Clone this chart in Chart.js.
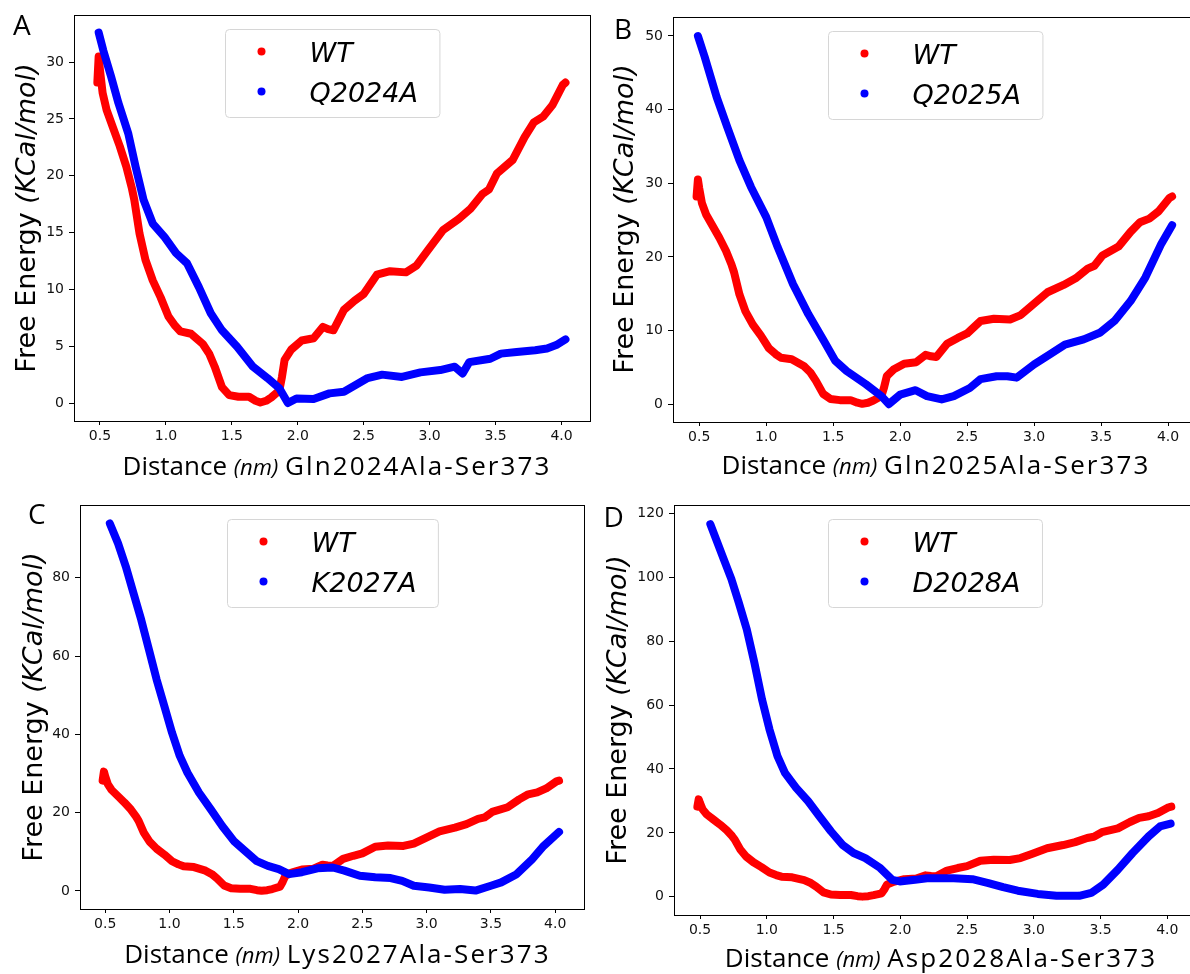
<!DOCTYPE html>
<html><head><meta charset="utf-8">
<script src="https://cdn.jsdelivr.net/npm/chart.js@4.4.1/dist/chart.umd.min.js"></script>
<style>
html,body{margin:0;padding:0;background:#fff;overflow:hidden;width:1190px;height:974px;position:relative;}
.panel{position:absolute;}
.panel canvas{position:absolute;left:0;top:0;}
.lbl{position:absolute;font-family:"Open Sans",sans-serif;font-size:28px;line-height:28px;color:#000;}
.xt{position:absolute;font-family:"Open Sans",sans-serif;font-size:26px;line-height:26px;white-space:nowrap;text-align:center;width:600px;color:#000;}
.xt i{font-size:22px;}
.xt .r{letter-spacing:2.1px;}
.yt{position:absolute;font-family:"DejaVu Sans",sans-serif;font-size:27px;line-height:27px;white-space:nowrap;color:#000;transform:translate(-50%,-50%) rotate(-90deg);}
</style></head>
<body>
<script>
// ---- data ----
const xTickValues = [0.5, 1.0, 1.5, 2.0, 2.5, 3.0, 3.5, 4.0];

const wtDistance = [0.48,0.49,0.50,0.52,0.55,0.60,0.65,0.70,0.74,0.76,0.80,0.845,0.90,0.96,1.02,1.07,1.11,1.19,1.28,1.33,1.37,1.425,1.48,1.55,1.63,1.68,1.716,1.76,1.80,1.86,1.88,1.90,1.95,2.03,2.12,2.19,2.23,2.27,2.35,2.43,2.50,2.60,2.70,2.82,2.90,2.99,3.10,3.22,3.31,3.40,3.45,3.51,3.63,3.72,3.79,3.86,3.93,4.01,4.03];
const wtEnergy   = [28.2,30.5,29.3,27.3,25.8,24.2,22.6,20.8,19.0,17.9,14.9,12.6,10.8,9.3,7.6,6.8,6.3,6.1,5.2,4.3,3.2,1.4,0.7,0.55,0.55,0.2,0.05,0.2,0.5,1.1,2.3,3.8,4.7,5.5,5.7,6.7,6.5,6.4,8.2,9.0,9.6,11.3,11.6,11.5,12.1,13.5,15.2,16.2,17.1,18.4,18.8,20.2,21.4,23.4,24.7,25.2,26.2,28.0,28.2];

const q2024aDistance = [0.49,0.526,0.585,0.64,0.715,0.77,0.83,0.90,0.99,1.077,1.16,1.25,1.34,1.425,1.54,1.66,1.77,1.86,1.925,1.99,2.12,2.24,2.35,2.53,2.64,2.79,2.93,3.08,3.19,3.25,3.30,3.46,3.54,3.66,3.80,3.89,3.96,4.03];
const q2024aEnergy   = [32.6,31.0,28.7,26.4,23.7,20.8,17.9,15.8,14.6,13.2,12.3,10.2,7.9,6.4,4.95,3.2,2.2,1.3,0.0,0.4,0.35,0.85,1.0,2.2,2.5,2.3,2.7,2.9,3.2,2.6,3.6,3.9,4.35,4.5,4.65,4.8,5.1,5.6];

const q2025aDistance = [0.49,0.54,0.63,0.71,0.80,0.886,1.0,1.086,1.20,1.315,1.43,1.515,1.60,1.744,1.86,1.915,2.0,2.115,2.20,2.31,2.40,2.52,2.60,2.72,2.80,2.87,3.0,3.12,3.23,3.37,3.49,3.60,3.72,3.83,3.95,4.03];
const q2025aEnergy   = [50.0,47.2,41.7,37.6,33.1,29.5,25.4,21.3,16.3,12.2,8.6,5.9,4.5,2.7,1.1,0.0,1.3,1.9,1.1,0.64,1.1,2.2,3.4,3.8,3.8,3.6,5.4,6.8,8.1,8.8,9.7,11.3,14.0,17.2,21.8,24.3];

const k2027aDistance = [0.536,0.60,0.66,0.72,0.78,0.84,0.90,0.96,1.02,1.08,1.14,1.23,1.32,1.41,1.50,1.586,1.675,1.765,1.85,1.93,2.03,2.15,2.27,2.36,2.48,2.60,2.72,2.81,2.90,3.02,3.14,3.26,3.38,3.50,3.58,3.70,3.82,3.91,4.03];
const k2027aEnergy   = [93.9,88.8,82.9,76.1,69.3,61.7,54.0,47.2,40.4,34.5,30.2,25.1,20.9,16.6,12.8,10.3,7.7,6.4,5.6,4.3,4.8,5.8,6.0,5.2,3.9,3.5,3.3,2.6,1.35,0.9,0.3,0.5,0.1,1.35,2.2,4.3,8.1,11.5,15.1];

const d2028aDistance = [0.577,0.62,0.678,0.735,0.79,0.85,0.907,0.964,1.02,1.08,1.136,1.22,1.31,1.394,1.48,1.566,1.65,1.738,1.85,1.94,1.996,2.11,2.20,2.40,2.54,2.66,2.77,2.88,3.03,3.17,3.34,3.43,3.52,3.63,3.74,3.86,3.945,4.025];
const d2028aEnergy   = [116.6,111.9,105.6,99.4,92.1,83.7,73.3,61.8,52.4,44.0,38.8,34.1,29.9,25.2,20.5,16.3,13.7,12.1,9.0,5.3,4.8,5.3,5.8,5.8,5.5,4.3,3.0,1.9,0.9,0.3,0.3,1.2,3.8,8.5,13.7,18.9,22.0,22.9];

const yTicksA = [0,5,10,15,20,25,30];
const yTicksB = [0,10,20,30,40,50];
const yTicksC = [0,20,40,60,80];
const yTicksD = [0,20,40,60,80,100,120];

const mutantLabels = ['Q2024A','Q2025A','K2027A','D2028A'];
const pairTitles = ['Gln2024Ala-Ser373','Gln2025Ala-Ser373','Lys2027Ala-Ser373','Asp2028Ala-Ser373'];
const panelLetters = ['A','B','C','D'];

// ---- plugins ----
const framePlugin = {
  id: 'frame',
  afterDatasetsDraw(chart) {
    const {ctx, chartArea: a} = chart;
    ctx.save();
    ctx.strokeStyle = '#000';
    ctx.lineWidth = 1;
    ctx.strokeRect(Math.round(a.left) + 0.5, Math.round(a.top) + 0.5, Math.round(a.right - a.left), Math.round(a.bottom - a.top));
    ctx.restore();
  }
};
const innerLegend = {
  id: 'innerLegend',
  afterDraw(chart) {
    const {ctx, chartArea: a} = chart;
    const ds = chart.data.datasets;
    ctx.save();
    ctx.font = 'italic 27px "DejaVu Sans"';
    const tw = Math.max(...ds.map(d => ctx.measureText(d.label).width));
    const w = 84 + tw + 22, h = 88;
    const x0 = Math.round((a.left + a.right) / 2 - w / 2) + 0.5, y0 = Math.round(a.top + 14) + 0.5;
    ctx.beginPath();
    ctx.roundRect(x0, y0, w, h, 4);
    ctx.fillStyle = 'rgba(255,255,255,0.85)';
    ctx.fill();
    ctx.strokeStyle = '#d6d6d6';
    ctx.lineWidth = 1;
    ctx.stroke();
    ds.forEach((d, i) => {
      const cy = y0 + 22 + i * 40;
      ctx.beginPath();
      ctx.arc(x0 + 36, cy, 4, 0, Math.PI * 2);
      ctx.fillStyle = d.borderColor;
      ctx.fill();
      ctx.fillStyle = '#000';
      ctx.textBaseline = 'alphabetic';
      ctx.textAlign = 'left';
      ctx.fillText(d.label, x0 + 84, cy + 10);
    });
    ctx.restore();
  }
};

// ---- layout of panels ----
const panels = [
  {left:0,   top:0,   w:595, h:480, yW:74, padTop:15, padRight:5,  xH:59, xmin:0.303, xmax:4.216, ymin:-1.58, ymax:34.15, yTicks:yTicksA, mx:q2024aDistance, my:q2024aEnergy,
   yt:{cx:25, cy:218}, xt:{cx:337, base:475}, lt:{x:13, y:10}},
  {left:595, top:0,   w:605, h:480, yW:78, padTop:17, padRight:3,  xH:58, xmin:0.304, xmax:4.216, ymin:-2.42, ymax:52.58, yTicks:yTicksB, mx:q2025aDistance, my:q2025aEnergy,
   yt:{cx:622.5, cy:219}, xt:{cx:936, base:473.5}, lt:{x:614, y:13.5}},
  {left:0,   top:480, w:595, h:494, yW:80, padTop:25, padRight:11, xH:65, xmin:0.304, xmax:4.224, ymin:-4.6, ymax:98.6, yTicks:yTicksC, mx:k2027aDistance, my:k2027aEnergy,
   yt:{cx:32, cy:707}, xt:{cx:337.5, base:963.3}, lt:{x:28, y:498.5}},
  {left:595, top:480, w:605, h:494, yW:79, padTop:25, padRight:4,  xH:59, xmin:0.305, xmax:4.215, ymin:-5.7, ymax:122.6, yTicks:yTicksD, mx:d2028aDistance, my:d2028aEnergy,
   yt:{cx:616, cy:710}, xt:{cx:941, base:966.7}, lt:{x:603.5, y:502}}
];

const toPts = (xs, ys) => xs.map((x, i) => ({x, y: ys[i]}));
const tickFont = {family: 'DejaVu Sans', size: 14};

panels.forEach((p, k) => {
  const div = document.createElement('div');
  div.className = 'panel';
  div.style.left = p.left + 'px'; div.style.top = p.top + 'px';
  div.style.width = p.w + 'px'; div.style.height = p.h + 'px';
  const cv = document.createElement('canvas');
  cv.width = p.w; cv.height = p.h;
  cv.style.width = p.w + 'px'; cv.style.height = p.h + 'px';
  div.appendChild(cv);
  document.body.appendChild(div);

  const lineStyle = {showLine:true, pointRadius:0, borderWidth:8, borderCapStyle:'round', borderJoinStyle:'round', fill:false, tension:0};
  new Chart(cv, {
    type: 'scatter',
    data: {
      datasets: [
        Object.assign({label:'WT', data: toPts(wtDistance, wtEnergy), borderColor:'#ff0000', backgroundColor:'#ff0000', order:1}, lineStyle),
        Object.assign({label: mutantLabels[k], data: toPts(p.mx, p.my), borderColor:'#0000ff', backgroundColor:'#0000ff', order:0}, lineStyle)
      ]
    },
    options: {
      responsive:false, animation:false, devicePixelRatio:1,
      layout:{padding:{left:0, top:p.padTop, right:p.padRight, bottom:0}},
      plugins:{legend:{display:false}, tooltip:{enabled:false}},
      scales:{
        x:{type:'linear', min:p.xmin, max:p.xmax,
          afterBuildTicks: ax => { ax.ticks = xTickValues.map(v => ({value:v})); },
          afterFit: s => { s.height = p.xH; },
          grid:{drawOnChartArea:false, drawTicks:true, tickLength:4, color:'#000'},
          border:{display:true, color:'#000', width:1},
          ticks:{font:tickFont, color:'#111', padding:3, maxRotation:0, autoSkip:false, callback:v => Number(v).toFixed(1)}},
        y:{type:'linear', min:p.ymin, max:p.ymax,
          afterBuildTicks: ax => { ax.ticks = p.yTicks.map(v => ({value:v})); },
          afterFit: s => { s.width = p.yW; },
          grid:{drawOnChartArea:false, drawTicks:true, tickLength:5, color:'#000'},
          border:{display:true, color:'#000', width:1},
          ticks:{font:tickFont, color:'#111', padding:5, autoSkip:false, callback:v => String(v)}}
      }
    },
    plugins:[framePlugin, innerLegend]
  });

  // panel letter
  const l = document.createElement('div');
  l.className = 'lbl'; l.textContent = panelLetters[k];
  l.style.left = p.lt.x + 'px'; l.style.top = p.lt.y + 'px';
  document.body.appendChild(l);

  // y-axis title
  const yt = document.createElement('div');
  yt.className = 'yt';
  yt.innerHTML = 'Free Energy <i>(KCal/mol)</i>';
  yt.style.left = p.yt.cx + 'px'; yt.style.top = p.yt.cy + 'px';
  document.body.appendChild(yt);

  // x-axis title
  const xt = document.createElement('div');
  xt.className = 'xt';
  xt.innerHTML = 'Distance <i>(nm)</i> <span class="r">' + pairTitles[k] + '</span>';
  xt.style.left = (p.xt.cx - 300) + 'px'; xt.style.top = (p.xt.base - 23) + 'px';
  document.body.appendChild(xt);
});
</script>
</body></html>
